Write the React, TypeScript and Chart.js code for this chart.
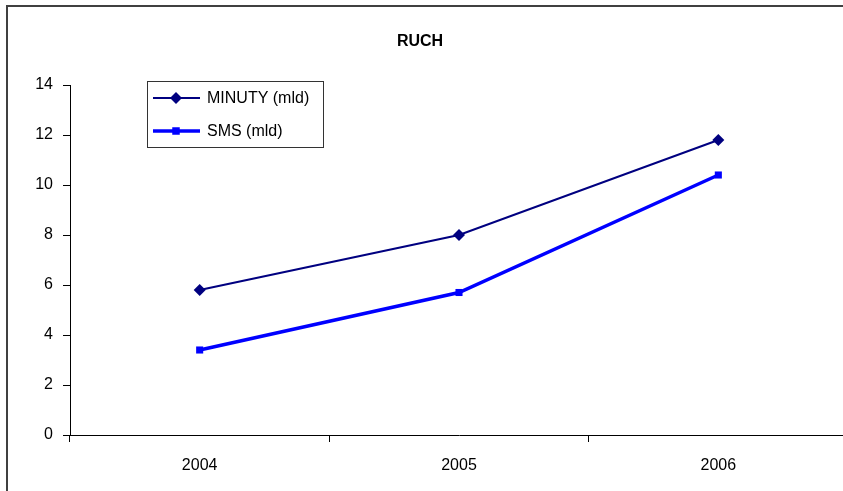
import React, { useEffect, useRef } from "react";
import { Chart, registerables } from "chart.js";

Chart.register(...registerables);

const categories = ["2004", "2005", "2006"];
const minutyValues = [5.8, 8.0, 11.8];
const smsValues = [3.4, 5.7, 10.4];
const seriesLabels = ["MINUTY (mld)", "SMS (mld)"];
const titleText = "RUCH";

const FONT = "'Liberation Sans', Arial, sans-serif";

const overlayPlugin = {
  id: "overlay",
  afterDraw(chart: any) {
    const ctx = chart.ctx;
    ctx.save();
    // title
    ctx.fillStyle = "#000";
    ctx.font = `bold 16px ${FONT}`;
    ctx.textAlign = "center";
    ctx.textBaseline = "middle";
    ctx.fillText(titleText, 420, 42);

    // legend
    const bx = 147, by = 81, bw = 176, bh = 66;
    ctx.strokeStyle = "#333";
    ctx.lineWidth = 1;
    ctx.strokeRect(bx + 0.5, by + 0.5, bw, bh);
    const rows = [98, 131];
    chart.data.datasets.forEach((ds: any, i: number) => {
      const y = rows[i];
      ctx.strokeStyle = ds.borderColor;
      ctx.lineWidth = ds.borderWidth;
      ctx.beginPath();
      ctx.moveTo(153, y);
      ctx.lineTo(200, y);
      ctx.stroke();
      ctx.fillStyle = ds.pointBackgroundColor;
      const cx = 176;
      if (ds.pointStyle === "rectRot") {
        const r = ds.pointRadius;
        ctx.beginPath();
        ctx.moveTo(cx, y - r);
        ctx.lineTo(cx + r, y);
        ctx.lineTo(cx, y + r);
        ctx.lineTo(cx - r, y);
        ctx.closePath();
        ctx.fill();
      } else {
        const r = ds.pointRadius * 0.75;
        ctx.fillRect(cx - r, y - r, 2 * r, 2 * r);
      }
      ctx.fillStyle = "#000";
      ctx.font = `16px ${FONT}`;
      ctx.textAlign = "left";
      ctx.textBaseline = "middle";
      ctx.fillText(ds.label, 207, y + 1);
    });
    ctx.restore();
  },
};

export default function App() {
  const ref = useRef<HTMLCanvasElement>(null);
  useEffect(() => {
    if (!ref.current) return;
    const chart = new Chart(ref.current, {
      type: "line",
      data: {
        labels: categories,
        datasets: [
          {
            label: seriesLabels[0],
            data: minutyValues,
            borderColor: "#000080",
            backgroundColor: "#000080",
            pointBackgroundColor: "#000080",
            pointBorderColor: "#000080",
            borderWidth: 2,
            pointStyle: "rectRot",
            pointRadius: 6,
            pointBorderWidth: 0,
            tension: 0,
          },
          {
            label: seriesLabels[1],
            data: smsValues,
            borderColor: "#0000FF",
            backgroundColor: "#0000FF",
            pointBackgroundColor: "#0000FF",
            pointBorderColor: "#0000FF",
            borderWidth: 3.5,
            pointStyle: "rect",
            pointRadius: 5,
            pointBorderWidth: 0,
            tension: 0,
          },
        ],
      },
      options: {
        animation: false,
        responsive: false,
        devicePixelRatio: 1,
        layout: { padding: { top: 85, left: 0, right: 22, bottom: 45 } },
        plugins: {
          legend: { display: false },
          title: { display: false },
          tooltip: { enabled: false },
        },
        scales: {
          x: {
            type: "category",
            offset: true,
            grid: {
              display: true,
              drawOnChartArea: false,
              drawTicks: true,
              tickLength: 7,
              color: "#000",
              offset: true,
            },
            border: { display: true, color: "#000", width: 1 },
            ticks: {
              color: "#000",
              font: { family: FONT, size: 16 },
              padding: 14,
              maxRotation: 0,
            },
            afterFit(scale: any) {
              scale.height = 40;
            },
          },
          y: {
            min: 0,
            max: 14,
            grid: {
              display: true,
              drawOnChartArea: false,
              drawTicks: true,
              tickLength: 7,
              color: "#000",
            },
            border: { display: true, color: "#000", width: 1 },
            ticks: {
              stepSize: 2,
              color: "#000",
              font: { family: FONT, size: 16 },
              padding: 10,
            },
            afterFit(scale: any) {
              scale.width = 70;
            },
          },
        },
      },
      plugins: [overlayPlugin],
    });
    return () => chart.destroy();
  }, []);

  return (
    <div
      style={{
        position: "fixed",
        left: 0,
        top: 0,
        width: 843,
        height: 491,
        overflow: "hidden",
        background: "#fff",
      }}
    >
      <div
        style={{
          position: "absolute",
          left: 6,
          top: 5,
          width: 1000,
          height: 1000,
          border: "2px solid #404040",
        }}
      />
      <canvas
        ref={ref}
        width={870}
        height={520}
        style={{ position: "absolute", left: 0, top: 0 }}
      />
    </div>
  );
}
